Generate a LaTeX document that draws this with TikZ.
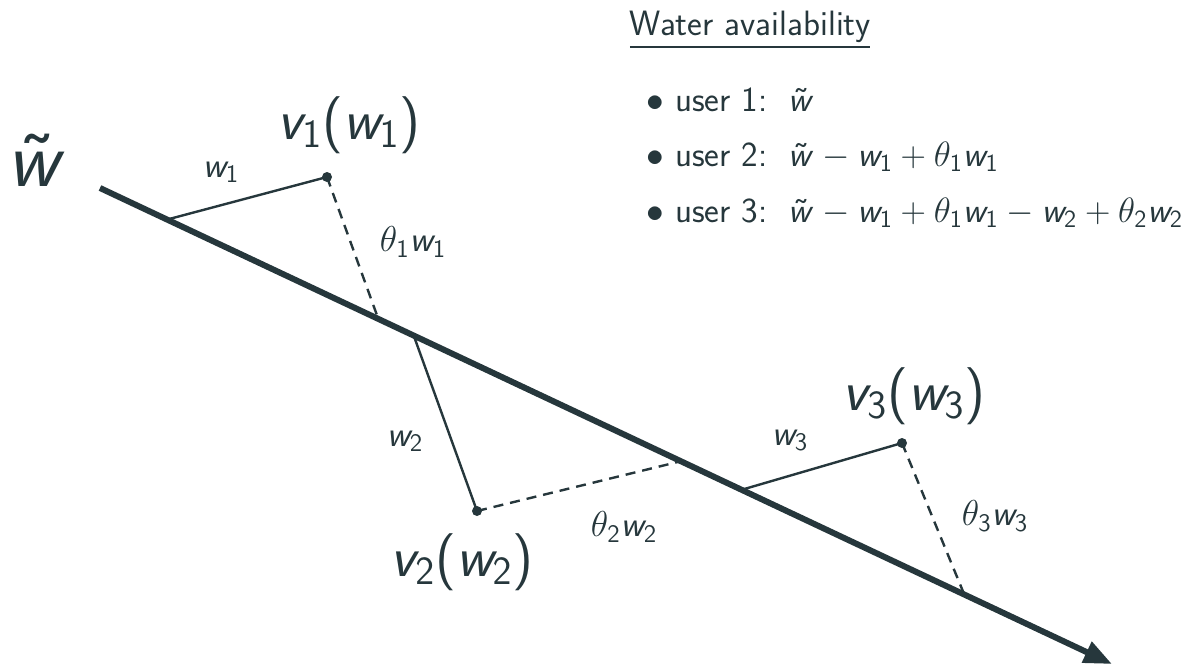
\RequirePackage{fix-cm}
\documentclass[tikz,border=0pt]{standalone}
\usepackage{amsmath,amssymb}
\usetikzlibrary{arrows.meta,calc}
\definecolor{slate}{RGB}{38,55,60}
% sans letters and digits in math, greek stays serif
\DeclareSymbolFont{sfit}{OT1}{cmss}{m}{sl}
\DeclareSymbolFont{sfup}{OT1}{cmss}{m}{n}
\DeclareMathSymbol{w}{\mathalpha}{sfit}{`w}
\DeclareMathSymbol{v}{\mathalpha}{sfit}{`v}
\DeclareMathSymbol{1}{\mathalpha}{sfup}{`1}
\DeclareMathSymbol{2}{\mathalpha}{sfup}{`2}
\DeclareMathSymbol{3}{\mathalpha}{sfup}{`3}
\DeclareMathSymbol{(}{\mathopen}{sfup}{`(}
\DeclareMathSymbol{)}{\mathclose}{sfup}{`)}
\DeclareMathAccent{\sftilde}{\mathalpha}{sfup}{"7E}

\begin{document}
\begin{tikzpicture}[x=0.5pt, y=-0.5pt, >={Triangle[length=14pt,width=11pt]},
    every node/.style={text=slate, inner sep=0pt},
    flow/.style={line width=3pt, draw=slate, ->},
    take/.style={line width=1.2pt, draw=slate},
    back/.style={take, dash pattern=on 5pt off 3.5pt},
    userdot/.style={circle, fill=slate, inner sep=0pt, minimum size=5pt},
    total/.style={font=\fontsize{40}{44}\selectfont},
    big/.style={font=\fontsize{28.6}{33}\selectfont},
    small/.style={font=\fontsize{18}{22}\selectfont},
    legend/.style={font=\sffamily\fontsize{17.6}{21}\selectfont, anchor=west}]
    \useasboundingbox (0,0) rectangle (1192,670);

    % the river
    \coordinate (src) at (100,188);
    \coordinate (sink) at (1112,664);
    \draw[flow] (src) -- (sink);
    \node[total] (wtot) at (37,160) {$\sftilde w$};

    % where the users take and give back
    \coordinate (out1) at ($(src)!0.0663!(sink)$);
    \coordinate (in1) at ($(src)!0.275!(sink)$);
    \coordinate (out2) at ($(src)!0.31!(sink)$);
    \coordinate (in2) at ($(src)!0.574!(sink)$);
    \coordinate (out3) at ($(src)!0.634!(sink)$);
    \coordinate (in3) at ($(src)!0.854!(sink)$);

    \node[userdot] (u1) at (327,177) {};
    \node[userdot] (u2) at (477,511) {};
    \node[userdot] (u3) at (902,443) {};

    \draw[take] (out1) -- (u1.center);
    \draw[back] (u1.center) -- (in1);
    \draw[take] (out2) -- (u2.center);
    \draw[back] (u2.center) -- (in2);
    \draw[take] (out3) -- (u3.center);
    \draw[back] (u3.center) -- (in3);

    \node[big] (v1) at (349,125) {$v_1(w_1)$};
    \node[big] (v2) at (462,562) {$v_2(w_2)$};
    \node[big] (v3) at (914,396) {$v_3(w_3)$};

    \node[small] (w1) at (221,172) {$w_1$};
    \node[small] (r1) at (413,242) {$\theta_1 w_1$};
    \node[small] (w2) at (405,441) {$w_2$};
    \node[small] (r2) at (624,527) {$\theta_2 w_2$};
    \node[small] (w3) at (790,440) {$w_3$};
    \node[small] (r3) at (995,516) {$\theta_3 w_3$};

    % legend
    \node[legend, anchor=center] (title) at (750,30) {\underline{Water availability}};
    \node[legend] (a1) at (646,100) {$\bullet$ user 1:\, $\sftilde w$};
    \node[legend] (a2) at (646,157) {$\bullet$ user 2:\, $\sftilde w - w_1 + \theta_1 w_1$};
    \node[legend] (a3) at (646,213) {$\bullet$ user 3:\, $\sftilde w - w_1 + \theta_1 w_1 - w_2 + \theta_2 w_2$};
\end{tikzpicture}
\end{document}
